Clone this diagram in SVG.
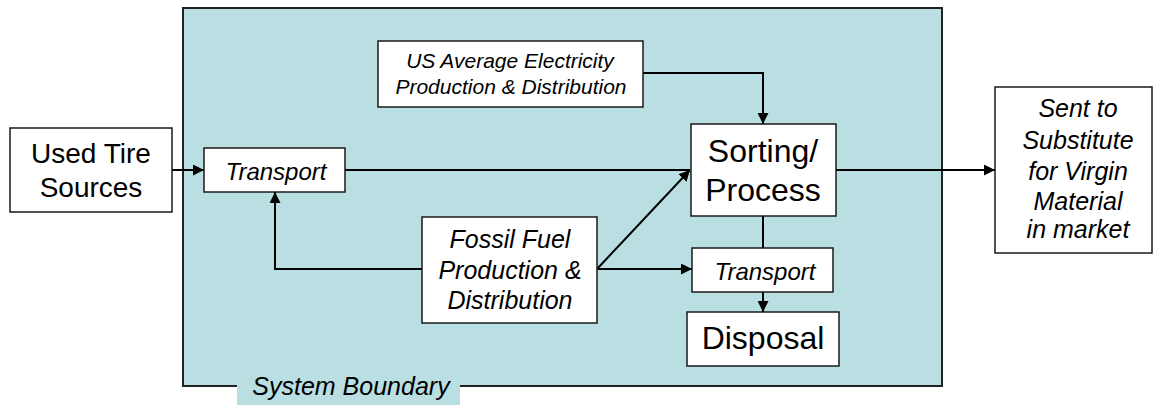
<svg xmlns="http://www.w3.org/2000/svg" width="1153" height="405" viewBox="0 0 1153 405">
  <style>
    .box { fill: #ffffff; stroke: #1a1a1a; stroke-width: 1.5; }
    .lbl { fill: #000; text-anchor: middle; }
    .it { font-style: italic; }
    .wire { fill: none; stroke: #000; stroke-width: 2; }
  </style>
  <defs>
    <marker id="arrowL" viewBox="0 0 10 10" refX="10" refY="5" markerWidth="11" markerHeight="11" markerUnits="userSpaceOnUse" orient="auto">
      <path d="M0,0 L10,5 L0,10 Z" fill="#000"/>
    </marker>
  </defs>
  <rect width="1153" height="405" fill="#ffffff"/>

  <g font-family="Liberation Sans, Arial, Helvetica, sans-serif">
  <!-- system boundary -->
  <g id="boundary">
    <rect x="183" y="8" width="759" height="378" fill="#b9dfe2" stroke="#222" stroke-width="2"/>
    <rect x="237" y="375" width="223" height="30" fill="#b9dfe2"/>
    <text class="lbl it" x="351" y="395" font-size="25">System Boundary</text>
  </g>

  <!-- connectors -->
  <g id="connectors">
    <line class="wire" x1="172" y1="170" x2="204" y2="170" marker-end="url(#arrowL)"/>
    <line class="wire" x1="345" y1="170" x2="690" y2="170"/>
    <polyline class="wire" points="643,73 763,73 763,124" marker-end="url(#arrowL)"/>
    <polyline class="wire" points="422,269 275,269 275,192" marker-end="url(#arrowL)"/>
    <line class="wire" x1="597" y1="269" x2="690" y2="170" marker-end="url(#arrowL)"/>
    <line class="wire" x1="597" y1="269" x2="692" y2="269" marker-end="url(#arrowL)"/>
    <line class="wire" x1="763" y1="216" x2="763" y2="248"/>
    <line class="wire" x1="763" y1="292" x2="763" y2="312" marker-end="url(#arrowL)"/>
    <line class="wire" x1="836" y1="170" x2="995" y2="170" marker-end="url(#arrowL)"/>
  </g>

  <g id="used-tire">
    <rect class="box" x="10" y="128" width="162" height="84"/>
    <text class="lbl" x="91" y="163" font-size="28">Used Tire</text>
    <text class="lbl" x="91" y="197" font-size="28">Sources</text>
  </g>

  <g id="transport-in">
    <rect class="box" x="204" y="148" width="141" height="44"/>
    <text class="lbl it" x="276" y="180" font-size="24">Transport</text>
  </g>

  <g id="electricity">
    <rect class="box" x="378" y="41" width="265" height="66"/>
    <text class="lbl it" x="510" y="68" font-size="21">US Average Electricity</text>
    <text class="lbl it" x="511" y="94" font-size="21">Production &amp; Distribution</text>
  </g>

  <g id="sorting">
    <rect class="box" x="691" y="124" width="145" height="92"/>
    <text class="lbl" x="763" y="162" font-size="32">Sorting/</text>
    <text class="lbl" x="763" y="201" font-size="32">Process</text>
  </g>

  <g id="fossil-fuel">
    <rect class="box" x="422" y="217" width="175" height="106"/>
    <text class="lbl it" x="510" y="248" font-size="25">Fossil Fuel</text>
    <text class="lbl it" x="510" y="279" font-size="25">Production &amp;</text>
    <text class="lbl it" x="510" y="309" font-size="25">Distribution</text>
  </g>

  <g id="transport-out">
    <rect class="box" x="692" y="248" width="141" height="44"/>
    <text class="lbl it" x="765" y="280" font-size="24">Transport</text>
  </g>

  <g id="disposal">
    <rect class="box" x="687" y="312" width="152" height="54"/>
    <text class="lbl" x="763" y="349" font-size="32">Disposal</text>
  </g>

  <g id="market">
    <rect class="box" x="995" y="87" width="157" height="166"/>
    <text class="lbl it" x="1078" y="117" font-size="25">Sent to</text>
    <text class="lbl it" x="1078" y="149" font-size="25">Substitute</text>
    <text class="lbl it" x="1078" y="180" font-size="25">for Virgin</text>
    <text class="lbl it" x="1078" y="210" font-size="25">Material</text>
    <text class="lbl it" x="1078" y="238" font-size="25">in market</text>
  </g>
  </g>
</svg>
